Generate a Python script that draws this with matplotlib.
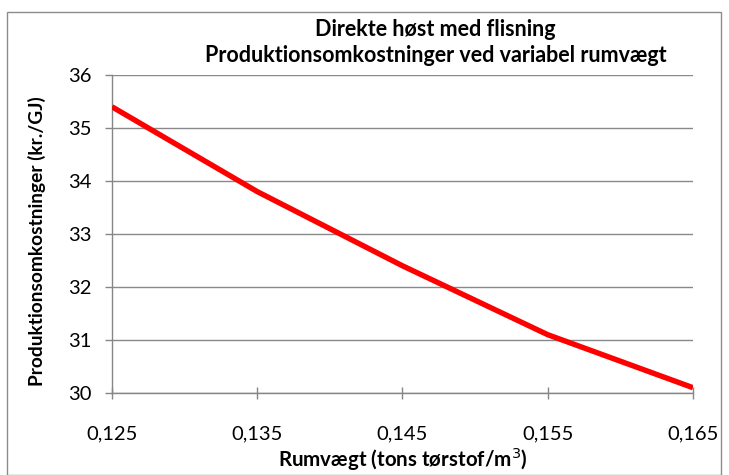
import matplotlib
matplotlib.use("Agg")
import matplotlib.pyplot as plt
from matplotlib.patches import Rectangle
from matplotlib.ticker import FixedLocator

plt.rcParams['font.family'] = ['Lato', 'DejaVu Sans']

# Bulk density (tons dry matter per m3) and production cost (kr./GJ)
rumvaegt = [0.125, 0.135, 0.145, 0.155, 0.165]
omkostning = [35.4, 33.8, 32.4, 31.1, 30.1]
x_labels = ["0,125", "0,135", "0,145", "0,155", "0,165"]
y_ticks = [30, 31, 32, 33, 34, 35, 36]

title_lines = ["Direkte høst med flisning",
               "Produktionsomkostninger ved variabel rumvægt"]
x_title = "Rumvægt (tons tørstof/m$^3$)"
y_title = "Produktionsomkostninger (kr./GJ)"

W, H = 729, 475
fig = plt.figure(figsize=(W / 100, H / 100), dpi=100)
fig.patch.set_facecolor("white")

# outer chart frame
fig.patches.append(Rectangle((7 / W, 0.0), (721 - 7) / W, (H - 12) / H,
                             transform=fig.transFigure, fill=False,
                             edgecolor="#8c8c8c", linewidth=1.0))

ax = fig.add_axes([112 / W, 1 - 393 / H, (693 - 112) / W, (393 - 75) / H])
ax.plot(rumvaegt, omkostning, color="#ff0000", linewidth=3.9,
        solid_capstyle="butt", solid_joinstyle="round", zorder=3)

ax.set_xlim(rumvaegt[0], rumvaegt[-1])
ax.set_ylim(y_ticks[0], y_ticks[-1])
ax.xaxis.set_major_locator(FixedLocator(rumvaegt))
ax.set_xticklabels(x_labels)
ax.set_yticks(y_ticks)
ax.set_yticklabels([str(v) for v in y_ticks])

ax.grid(axis="y", color="#898989", linewidth=1.0)
ax.set_axisbelow(True)
for side in ("top", "right"):
    ax.spines[side].set_visible(False)
for side in ("left", "bottom"):
    ax.spines[side].set_color("#868686")
    ax.spines[side].set_linewidth(1.0)

ax.tick_params(axis="x", direction="inout", length=8, width=1.0,
               color="#868686", labelsize=14.5, pad=19, labelcolor="#000000")
ax.tick_params(axis="y", direction="out", length=5, width=1.0,
               color="#868686", labelsize=14.5, pad=10, labelcolor="#000000")

fig.text(435 / W, 1 - 29 / H, title_lines[0], ha="center", va="center",
         fontsize=15.5, fontweight="bold")
fig.text(436 / W, 1 - 56 / H, title_lines[1], ha="center", va="center",
         fontsize=15.5, fontweight="bold")
fig.text(403 / W, 1 - 459 / H, x_title, ha="center", va="center",
         fontsize=14.8, fontweight="bold")
fig.text(37 / W, 1 - 241 / H, y_title, ha="center", va="center",
         rotation=90, fontsize=13.8, fontweight="bold")

fig.savefig("out.png", dpi=100, facecolor="white")
